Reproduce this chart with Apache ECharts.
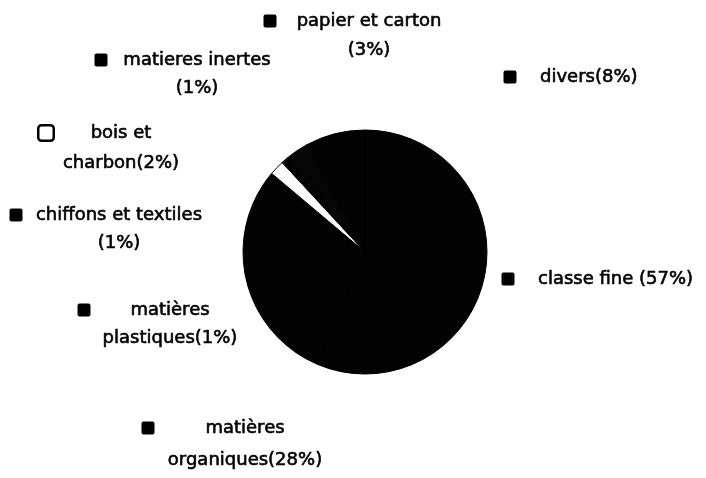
<!DOCTYPE html>
<html>
<head>
<meta charset="utf-8">
<script src="https://cdn.jsdelivr.net/npm/echarts@6/dist/echarts.min.js"></script>
<style>html,body{margin:0;padding:0;background:#fff;}#c{width:706px;height:478px;}</style>
</head>
<body>
<div id="c"></div>
<script>
// ---- data ----
const categories = ['classe fine', 'matières organiques', 'matières plastiques', 'chiffons et textiles', 'bois et charbon', 'matieres inertes', 'papier et carton', 'divers'];
const values = [57, 28, 1, 1, 2, 1, 3, 8];
const labelLine1 = ['classe fine (57%)', 'matières', 'matières', 'chiffons et textiles', 'bois et', 'matieres inertes', 'papier et carton', 'divers(8%)'];
const labelLine2 = ['', 'organiques(28%)', 'plastiques(1%)', '(1%)', 'charbon(2%)', '(1%)', '(3%)', ''];

// ---- layout (positions of the free-placed labels) ----
// cx: text center (two-line) or text left (single-line); y1: first line center; lh: line height; bx: key box center x
const labelLayoutPos = [
  {cx: 538, y1: 279, lh: 28, bx: 508},
  {cx: 245, y1: 428, lh: 32, bx: 148},
  {cx: 170, y1: 310, lh: 28, bx: 84},
  {cx: 119, y1: 215, lh: 28, bx: 16},
  {cx: 121, y1: 133, lh: 30, bx: 46},
  {cx: 197, y1: 60,  lh: 28, bx: 101},
  {cx: 369, y1: 21,  lh: 29, bx: 270},
  {cx: 540, y1: 77,  lh: 28, bx: 510}
];
const sliceColors = ['#030303', '#030303', '#030303', '#030303', '#ffffff', '#030303', '#050505', '#030303'];
const FONT = '"DejaVu Sans", "Liberation Sans", Arial, sans-serif';
const FS = 18;
const BOX = 13;

const ctx = document.createElement('canvas').getContext('2d');
ctx.font = FS + 'px ' + FONT;
function tw(s) { return ctx.measureText(s).width; }

const data = categories.map((name, i) => {
  const p = labelLayoutPos[i];
  const two = labelLine2[i] !== '';
  let gap;
  if (two) {
    gap = (p.cx - tw(labelLine1[i]) / 2) - (p.bx + BOX / 2);
  } else {
    gap = p.cx - (p.bx + BOX / 2);
  }
  gap = Math.max(2, gap);
  const isWhite = sliceColors[i] === '#ffffff';
  const rich = {
    k: {width: BOX, height: BOX, backgroundColor: isWhite ? '#fff' : '#000', borderColor: '#000', borderWidth: isWhite ? 2.5 : 0, borderRadius: 2, verticalAlign: 'middle'},
    g: {width: gap, height: 2, verticalAlign: 'middle'},
    kr: {width: BOX + gap, height: 2, verticalAlign: 'middle'},
    t: {fontSize: FS, fontFamily: FONT, color: '#000', textBorderColor: '#000', textBorderWidth: 0.6, lineHeight: p.lh, verticalAlign: 'middle'}
  };
  const text = two
    ? '{k|}{g|}{t|' + labelLine1[i] + '}{kr|}\n{t|' + labelLine2[i] + '}'
    : '{k|}{g|}{t|' + labelLine1[i] + '}';
  return {
    name: name,
    value: values[i],
    itemStyle: {color: sliceColors[i]},
    label: {formatter: text, rich: rich}
  };
});

const chart = echarts.init(document.getElementById('c'), null, {renderer: 'canvas'});
chart.setOption({
  backgroundColor: '#ffffff',
  animation: false,
  series: [{
    type: 'pie',
    center: [365, 252],
    radius: 122,
    startAngle: 90,
    clockwise: true,
    avoidLabelOverlap: false,
    data: data,
    itemStyle: {borderColor: '#000', borderWidth: 1},
    label: {show: true, position: 'outside'},
    labelLine: {show: false},
    emphasis: {disabled: true},
    labelLayout: function (params) {
      const i = params.dataIndex;
      const p = labelLayoutPos[i];
      if (labelLine2[i] !== '') {
        return {x: p.cx, y: p.y1 + p.lh / 2, align: 'center', verticalAlign: 'middle'};
      }
      return {x: p.bx - BOX / 2, y: p.y1, align: 'left', verticalAlign: 'middle'};
    }
  }]
});
</script>
</body>
</html>
